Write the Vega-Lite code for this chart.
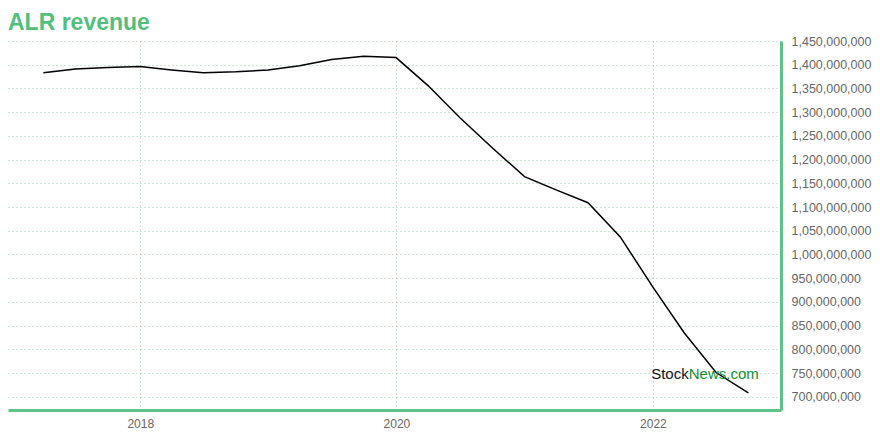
{
  "$schema": "https://vega.github.io/schema/vega-lite/v6.json",
  "width": 773,
  "height": 369,
  "autosize": {"type": "none"},
  "padding": {"left": 8, "top": 41, "right": 99, "bottom": 30},
  "background": "white",
  "title": {
    "text": "ALR revenue",
    "anchor": "start",
    "frame": "group",
    "font": "Liberation Sans",
    "fontSize": 23,
    "fontWeight": "bold",
    "color": "#52bf7e",
    "baseline": "alphabetic",
    "offset": -18
  },
  "config": {"view": {"stroke": null}},
  "data": {
    "values": [
      {"date": "2017-03-31", "revenue": 1383000000},
      {"date": "2017-06-30", "revenue": 1391000000},
      {"date": "2017-09-30", "revenue": 1394000000},
      {"date": "2017-12-31", "revenue": 1396000000},
      {"date": "2018-03-31", "revenue": 1389000000},
      {"date": "2018-06-30", "revenue": 1383000000},
      {"date": "2018-09-30", "revenue": 1385000000},
      {"date": "2018-12-31", "revenue": 1389000000},
      {"date": "2019-03-31", "revenue": 1398000000},
      {"date": "2019-06-30", "revenue": 1411000000},
      {"date": "2019-09-30", "revenue": 1418000000},
      {"date": "2019-12-31", "revenue": 1415000000},
      {"date": "2020-03-31", "revenue": 1356000000},
      {"date": "2020-06-30", "revenue": 1288000000},
      {"date": "2020-09-30", "revenue": 1225000000},
      {"date": "2020-12-31", "revenue": 1164000000},
      {"date": "2021-03-31", "revenue": 1136000000},
      {"date": "2021-06-30", "revenue": 1109000000},
      {"date": "2021-09-30", "revenue": 1037000000},
      {"date": "2021-12-31", "revenue": 932000000},
      {"date": "2022-03-31", "revenue": 835000000},
      {"date": "2022-06-30", "revenue": 751000000},
      {"date": "2022-09-30", "revenue": 708000000}
    ]
  },
  "layer": [
    {
      "mark": {"type": "line", "color": "black", "strokeWidth": 1.5},
      "encoding": {
        "x": {
          "field": "date",
          "type": "temporal",
          "scale": {"domain": [{"year": 2016, "month": 12, "date": 20}, {"year": 2023, "month": 1, "date": 1}]},
          "axis": {
            "title": null,
            "values": [{"year": 2018, "month": 1, "date": 1}, {"year": 2020, "month": 1, "date": 1}, {"year": 2022, "month": 1, "date": 1}],
            "format": "%Y",
            "ticks": false,
            "domainColor": "#5ec485",
            "domainWidth": 3,
            "domainOpacity": 1,
            "labelFont": "Liberation Sans",
            "labelFontSize": 12,
            "labelColor": "#666666",
            "labelPadding": 8,
            "grid": true,
            "gridColor": "#8fd3a9",
            "gridOpacity": 1,
            "gridDash": [1, 3],
            "gridWidth": 1
          }
        },
        "y": {
          "field": "revenue",
          "type": "quantitative",
          "scale": {"domain": [672000000, 1450000000], "nice": false, "zero": false},
          "axis": {
            "title": null,
            "orient": "right",
            "values": [700000000, 750000000, 800000000, 850000000, 900000000, 950000000, 1000000000, 1050000000, 1100000000, 1150000000, 1200000000, 1250000000, 1300000000, 1350000000, 1400000000, 1450000000],
            "tickCount": 20,
            "labelOverlap": false,
            "format": ",d",
            "ticks": false,
            "domainColor": "#5ec485",
            "domainWidth": 3,
            "domainOpacity": 1,
            "labelFont": "Liberation Sans",
            "labelFontSize": 12.5,
            "labelColor": "#666666",
            "labelPadding": 10,
            "grid": true,
            "gridColor": "#8fd3a9",
            "gridOpacity": 1,
            "gridDash": [1, 3],
            "gridWidth": 1
          }
        }
      }
    },
    {
      "data": {"values": [{"label": "Stock"}]},
      "mark": {"type": "text", "align": "right", "baseline": "alphabetic", "font": "Liberation Sans", "fontSize": 15, "color": "#111111"},
      "encoding": {
        "x": {"datum": {"year": 2022, "month": 4, "date": 13}, "type": "temporal"},
        "y": {"datum": 738000000, "type": "quantitative"},
        "text": {"field": "label"}
      }
    },
    {
      "data": {"values": [{"label": "News.com"}]},
      "mark": {"type": "text", "align": "left", "baseline": "alphabetic", "font": "Liberation Sans", "fontSize": 15, "color": "#13902f"},
      "encoding": {
        "x": {"datum": {"year": 2022, "month": 4, "date": 13}, "type": "temporal"},
        "y": {"datum": 738000000, "type": "quantitative"},
        "text": {"field": "label"}
      }
    }
  ]
}
